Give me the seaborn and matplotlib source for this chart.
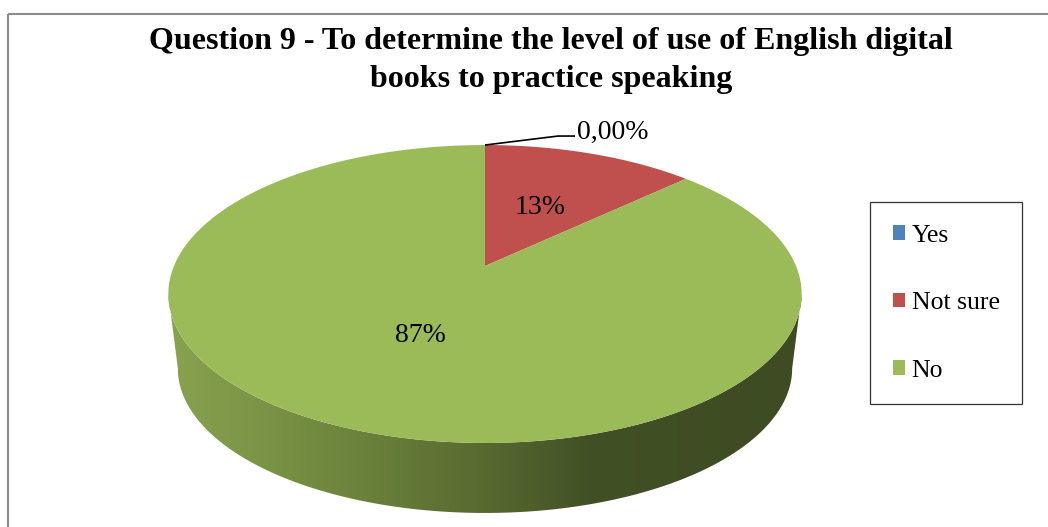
import numpy as np
import matplotlib
matplotlib.use("Agg")
import matplotlib.pyplot as plt
from matplotlib.patches import Polygon, Rectangle, Patch
import seaborn as sns

# ---- data ----
categories = ["Yes", "Not sure", "No"]
shares = [0.0, 13.0, 87.0]            # percent of respondents
value_labels = ["0,00%", "13%", "87%"]
title_lines = ["Question 9 - To determine the level of use of English digital",
               "books to practice speaking"]

sns.set_theme(style="white")
plt.rcParams["font.family"] = ["Liberation Serif", "DejaVu Serif"]
plt.rcParams["text.color"] = "black"
colors = sns.color_palette(["#4F81BD", "#C0504D", "#9BBB59"])

W, H = 1048, 527
fig = plt.figure(figsize=(W / 100, H / 100), dpi=100)
ax = fig.add_axes([0, 0, 1, 1])
ax.set_xlim(0, W)
ax.set_ylim(H, 0)
ax.axis("off")

# chart area frame
ax.add_patch(Rectangle((8, 14), 1100, 600, fill=False, edgecolor="#8c8c8c", lw=1.5))

# ---- perspective projection of the pie disc ----
cx, cy = 485.0, 266.0      # projected centre of the top face
A, B, k = 311.0, 143.7, 0.188
depth, shrink = 75.3, 0.97


def project(u, v, bottom=False):
    w = 1.0 + k * v
    s = shrink if bottom else 1.0
    x = cx + s * A * u / w
    y = cy - s * B * v / w + (depth if bottom else 0.0)
    return x, y


# side wall (front half of the cylinder)
phi0 = np.pi + np.arcsin(k)
phi1 = 2 * np.pi - np.arcsin(k)
phis = np.linspace(phi0, phi1, 300)
tx, ty = project(np.cos(phis), np.sin(phis))
bx, by = project(np.cos(phis[::-1]), np.sin(phis[::-1]), bottom=True)
side_xy = np.column_stack([np.concatenate([tx, bx]), np.concatenate([ty, by])])
side = Polygon(side_xy, closed=True, facecolor="none", edgecolor="none")
ax.add_patch(side)

stops_x = [165, 330, 490, 590, 810]
stops_rgb = np.array([[138, 163, 80], [112, 136, 62], [86, 105, 48],
                      [66, 80, 37], [62, 75, 35]]) / 255.0
gx = np.linspace(160, 810, 400)
grad = np.stack([np.interp(gx, stops_x, stops_rgb[:, c]) for c in range(3)], axis=-1)[None, :, :]
img = ax.imshow(grad, extent=(160, 810, 520, 280), aspect="auto", zorder=1,
                interpolation="bilinear")
img.set_clip_path(side)

# top face wedges, clockwise from 12 o'clock
total = float(sum(shares))
start = 0.0
label_pos = []
for share, col in zip(shares, colors):
    sweep = 2 * np.pi * share / total
    mid = start + sweep / 2
    if sweep > 0:
        th = np.linspace(start, start + sweep, max(int(sweep * 80), 4))
        px, py = project(np.sin(th), np.cos(th))
        ox, oy = project(0.0, 0.0)
        poly = np.column_stack([np.r_[ox, px], np.r_[oy, py]])
        ax.add_patch(Polygon(poly, closed=True, facecolor=col, edgecolor="none", zorder=2))
    label_pos.append((start, mid, sweep))
    start += sweep

# value labels
rho = 0.48
for (st, mid, sweep), txt in zip(label_pos, value_labels):
    if sweep > 0:
        lx, ly = project(rho * np.sin(mid), rho * np.cos(mid))
        ax.text(lx, ly, txt, ha="center", va="center", fontsize=20, color="black", zorder=5)
    else:
        # zero-size slice: leader line to an outside label
        ex, ey = project(np.sin(st), np.cos(st))
        ax.plot([ex, ex + 73, ex + 90], [ey, ey - 9, ey - 9], color="black", lw=1.2, zorder=5,
                solid_capstyle="butt")
        ax.text(ex + 92, ey - 13, txt, ha="left", va="center", fontsize=20, color="black", zorder=5)

# title
ax.text(551, 42, title_lines[0], ha="center", va="center", fontsize=23, fontweight="bold",
        color="black")
ax.text(551, 80, title_lines[1], ha="center", va="center", fontsize=23, fontweight="bold",
        color="black")

# legend
handles = [Patch(facecolor=c, edgecolor="none", label=l) for c, l in zip(colors, categories)]
leg = ax.legend(handles=handles, loc="upper left", bbox_to_anchor=(870 / W, 1 - 202 / H),
                bbox_transform=fig.transFigure, frameon=True, fancybox=False,
                fontsize=18.5, handlelength=0.47, handleheight=0.47, handletextpad=0.27,
                borderpad=0.88, labelspacing=1.77, borderaxespad=0)
leg.get_frame().set_edgecolor("black")
leg.get_frame().set_linewidth(0.9)
for t in leg.get_texts():
    t.set_color("black")

fig.savefig("out.png", dpi=100)
